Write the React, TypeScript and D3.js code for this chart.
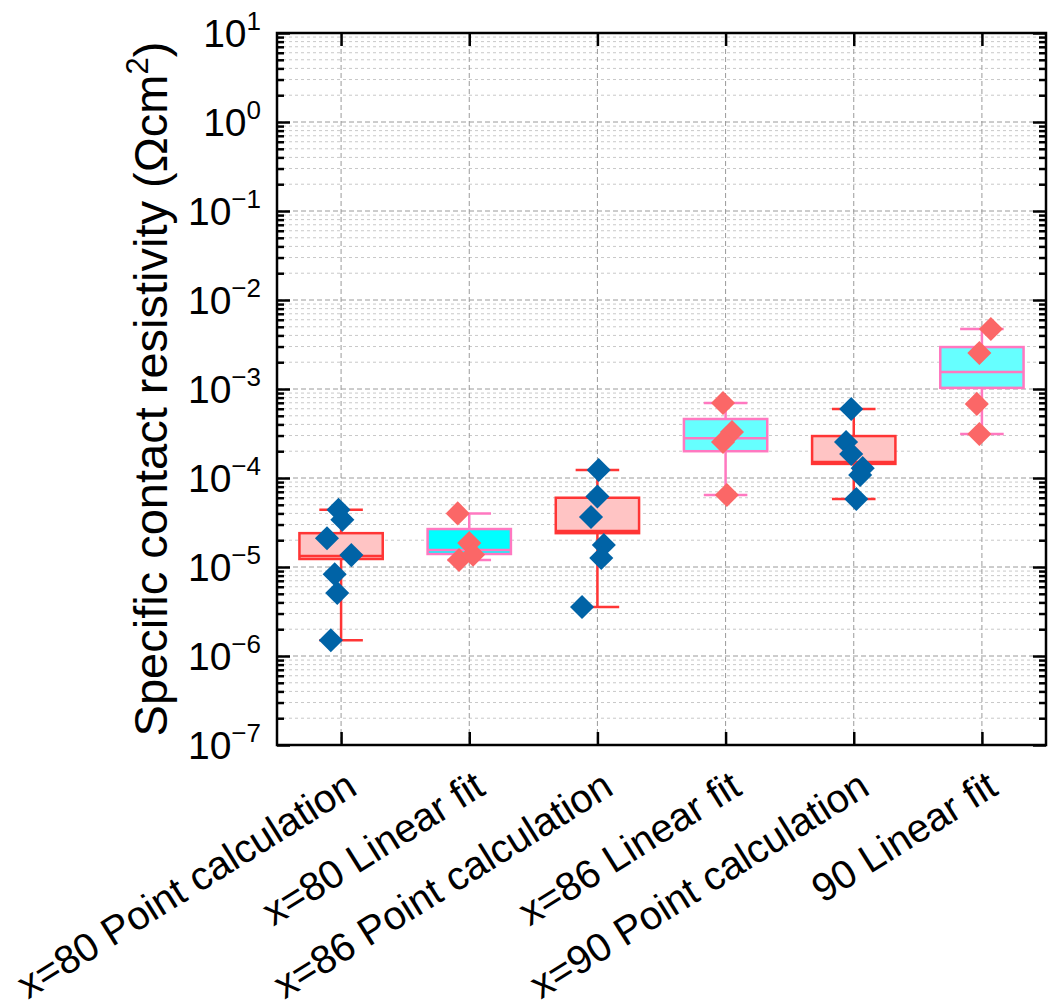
import { useRef, useEffect } from 'react';
import * as d3 from 'd3';

const categories = [
  'x=80 Point calculation',
  'x=80 Linear fit',
  'x=86 Point calculation',
  'x=86 Linear fit',
  'x=90 Point calculation',
  '90 Linear fit',
];
const methods = ['point', 'linear', 'point', 'linear', 'point', 'linear'];

// measured values (Ωcm²) and small horizontal jitter (category units)
const valuesX80Point = [4.4e-5, 3.4e-5, 2.1e-5, 1.36e-5, 8.3e-6, 5.1e-6, 1.5e-6];
const jitterX80Point = [-0.02, 0.01, -0.11, 0.08, -0.05, -0.03, -0.08];
const valuesX80Linear = [4.0e-5, 1.86e-5, 1.2e-5, 1.37e-5];
const jitterX80Linear = [-0.09, 0, -0.08, 0.03];
const valuesX86Point = [1.23e-4, 6.2e-5, 3.65e-5, 1.77e-5, 1.26e-5, 3.56e-6];
const jitterX86Point = [0.01, 0, -0.05, 0.05, 0.03, -0.12];
const valuesX86Linear = [6.97e-4, 3.29e-4, 2.54e-4, 6.45e-5];
const jitterX86Linear = [-0.02, 0.05, -0.02, 0.01];
const valuesX90Point = [5.96e-4, 2.54e-4, 1.86e-4, 1.29e-4, 1.08e-4, 5.8e-5];
const jitterX90Point = [-0.02, -0.06, -0.02, 0.07, 0.05, 0.02];
const valuesX90Linear = [4.72e-3, 2.54e-3, 6.8e-4, 3.12e-4];
const jitterX90Linear = [0.07, -0.02, -0.04, -0.02];

// box statistics
const q1 = [1.23e-5, 1.4e-5, 2.4e-5, 2.0e-4, 1.44e-4, 1.03e-3];
const medians = [1.33e-5, 1.55e-5, 2.54e-5, 2.8e-4, 1.51e-4, 1.55e-3];
const q3 = [2.4e-5, 2.67e-5, 6.0e-5, 4.6e-4, 2.96e-4, 2.96e-3];

const decadeExponents = [-7, -6, -5, -4, -3, -2, -1, 0, 1];

const groups = [
  { values: valuesX80Point, jitter: jitterX80Point },
  { values: valuesX80Linear, jitter: jitterX80Linear },
  { values: valuesX86Point, jitter: jitterX86Point },
  { values: valuesX86Linear, jitter: jitterX86Linear },
  { values: valuesX90Point, jitter: jitterX90Point },
  { values: valuesX90Linear, jitter: jitterX90Linear },
];

const boxFill = ['#ffc4c4', '#00ffff', '#ffc4c4', '#66ffff', '#ffc4c4', '#66ffff'];
const style = {
  point: { stroke: '#ff3535', marker: '#0063a6' },
  linear: { stroke: '#ff78c0', marker: '#fb6767' },
};

export default function App() {
  const svgRef = useRef(null);

  useEffect(() => {
    const svgWidth = 1048;
    const svgHeight = 1007;
    const left = 277;
    const right = 1046;
    const top = 33;
    const bottom = 745;
    const font = '"Liberation Sans", Arial, sans-serif';

    const svg = d3.select(svgRef.current).attr('width', svgWidth).attr('height', svgHeight);
    svg.selectAll('*').remove();

    const xScale = d3.scaleLinear().domain([0.5, 6.5]).range([left, right]);
    const yScale = d3.scaleLog().domain([1e-7, 10]).range([bottom, top]);

    const decades = decadeExponents.map((e) => Math.pow(10, e));
    const minors = [];
    decadeExponents.slice(0, -1).forEach((e) => {
      for (let m = 2; m <= 9; m++) minors.push(m * Math.pow(10, e));
    });

    // grid
    const grid = svg.append('g').attr('class', 'grid');
    grid
      .selectAll('.minor')
      .data(minors)
      .join('line')
      .attr('x1', left)
      .attr('x2', right)
      .attr('y1', (d) => yScale(d))
      .attr('y2', (d) => yScale(d))
      .attr('stroke', '#c8c8c8')
      .attr('stroke-width', 1)
      .attr('stroke-dasharray', '3,3');
    grid
      .selectAll('.major')
      .data(decades.slice(1, -1))
      .join('line')
      .attr('x1', left)
      .attr('x2', right)
      .attr('y1', (d) => yScale(d))
      .attr('y2', (d) => yScale(d))
      .attr('stroke', '#9a9a9a')
      .attr('stroke-width', 1)
      .attr('stroke-dasharray', '5,3');
    grid
      .selectAll('.vert')
      .data(categories.map((_, i) => i + 1))
      .join('line')
      .attr('x1', (d) => xScale(d))
      .attr('x2', (d) => xScale(d))
      .attr('y1', top)
      .attr('y2', bottom)
      .attr('stroke', '#9a9a9a')
      .attr('stroke-width', 1)
      .attr('stroke-dasharray', '5,3');

    // boxes
    const boxW = 0.65;
    const capW = 0.34;
    const boxes = svg.append('g').attr('class', 'boxes');
    groups.forEach((g, i) => {
      const c = i + 1;
      const s = style[methods[i]];
      const lo = d3.min(g.values);
      const hi = d3.max(g.values);
      const bg = boxes.append('g');
      bg.append('line')
        .attr('x1', xScale(c))
        .attr('x2', xScale(c))
        .attr('y1', yScale(hi))
        .attr('y2', yScale(lo))
        .attr('stroke', s.stroke)
        .attr('stroke-width', 2.5);
      [lo, hi].forEach((v) => {
        bg.append('line')
          .attr('x1', xScale(c - capW / 2))
          .attr('x2', xScale(c + capW / 2))
          .attr('y1', yScale(v))
          .attr('y2', yScale(v))
          .attr('stroke', s.stroke)
          .attr('stroke-width', 2.5);
      });
      bg.append('rect')
        .attr('x', xScale(c - boxW / 2))
        .attr('width', xScale(c + boxW / 2) - xScale(c - boxW / 2))
        .attr('y', yScale(q3[i]))
        .attr('height', yScale(q1[i]) - yScale(q3[i]))
        .attr('fill', boxFill[i])
        .attr('stroke', s.stroke)
        .attr('stroke-width', 2.5);
      bg.append('line')
        .attr('x1', xScale(c - boxW / 2))
        .attr('x2', xScale(c + boxW / 2))
        .attr('y1', yScale(medians[i]))
        .attr('y2', yScale(medians[i]))
        .attr('stroke', s.stroke)
        .attr('stroke-width', 2.5);
    });

    // data points
    const pts = svg.append('g').attr('class', 'points');
    const diamond = d3.symbol().type(d3.symbolSquare).size(290);
    groups.forEach((g, i) => {
      const s = style[methods[i]];
      pts
        .selectAll(`.p${i}`)
        .data(g.values.map((v, k) => ({ x: i + 1 + g.jitter[k], y: v })))
        .join('path')
        .attr('d', diamond)
        .attr('transform', (d) => `translate(${xScale(d.x)},${yScale(d.y)}) rotate(45)`)
        .attr('fill', s.marker);
    });

    // axes (ticks inward on all sides)
    const axes = svg.append('g').attr('class', 'axes');
    const yMajorL = d3.axisLeft(yScale).tickValues(decades).tickSize(-13).tickFormat(() => '');
    const yMinorL = d3.axisLeft(yScale).tickValues(minors).tickSize(-7).tickFormat(() => '');
    const yMajorR = d3.axisRight(yScale).tickValues(decades).tickSize(-13).tickFormat(() => '');
    const yMinorR = d3.axisRight(yScale).tickValues(minors).tickSize(-7).tickFormat(() => '');
    const xB = d3.axisBottom(xScale).tickValues([1, 2, 3, 4, 5, 6]).tickSize(-13).tickFormat(() => '');
    const xT = d3.axisTop(xScale).tickValues([1, 2, 3, 4, 5, 6]).tickSize(-13).tickFormat(() => '');
    axes.append('g').attr('transform', `translate(${left},0)`).call(yMajorL);
    axes.append('g').attr('transform', `translate(${left},0)`).call(yMinorL);
    axes.append('g').attr('transform', `translate(${right},0)`).call(yMajorR);
    axes.append('g').attr('transform', `translate(${right},0)`).call(yMinorR);
    axes.append('g').attr('transform', `translate(0,${bottom})`).call(xB);
    axes.append('g').attr('transform', `translate(0,${top})`).call(xT);
    axes.selectAll('.domain').remove();
    axes.selectAll('.tick line').attr('stroke', '#000').attr('stroke-width', 2.5);
    axes
      .append('rect')
      .attr('x', left)
      .attr('y', top)
      .attr('width', right - left)
      .attr('height', bottom - top)
      .attr('fill', 'none')
      .attr('stroke', '#000')
      .attr('stroke-width', 2.5);

    // y tick labels
    const yLabels = svg.append('g').attr('font-family', font).attr('fill', '#000');
    decadeExponents.forEach((e) => {
      const t = yLabels
        .append('text')
        .attr('x', 261)
        .attr('y', yScale(Math.pow(10, e)) + 14)
        .attr('text-anchor', 'end')
        .attr('font-size', 39);
      t.append('tspan').text('10');
      t.append('tspan')
        .attr('dy', -17)
        .attr('font-size', 26)
        .text(e < 0 ? `\u2212${-e}` : `${e}`);
    });

    // y axis title
    const yTitle = svg
      .append('text')
      .attr('transform', `translate(167,${(top + bottom) / 2}) rotate(-90)`)
      .attr('text-anchor', 'middle')
      .attr('font-family', font)
      .attr('font-size', 47)
      .attr('fill', '#000');
    yTitle.append('tspan').text('Specific contact resistivity (\u03A9cm');
    yTitle.append('tspan').attr('dy', -19).attr('font-size', 31).text('2');
    yTitle.append('tspan').attr('dy', 19).text(')');

    // category labels
    svg
      .append('g')
      .selectAll('text')
      .data(categories)
      .join('text')
      .attr('transform', (d, i) => `translate(${xScale(i + 1) + 18},${bottom + 48}) rotate(-32)`)
      .attr('text-anchor', 'end')
      .attr('font-family', font)
      .attr('font-size', 40)
      .attr('fill', '#000')
      .text((d) => d);
  }, []);

  return (
    <div>
      <svg ref={svgRef} style={{ position: 'absolute', left: 0, top: 0 }} />
    </div>
  );
}
